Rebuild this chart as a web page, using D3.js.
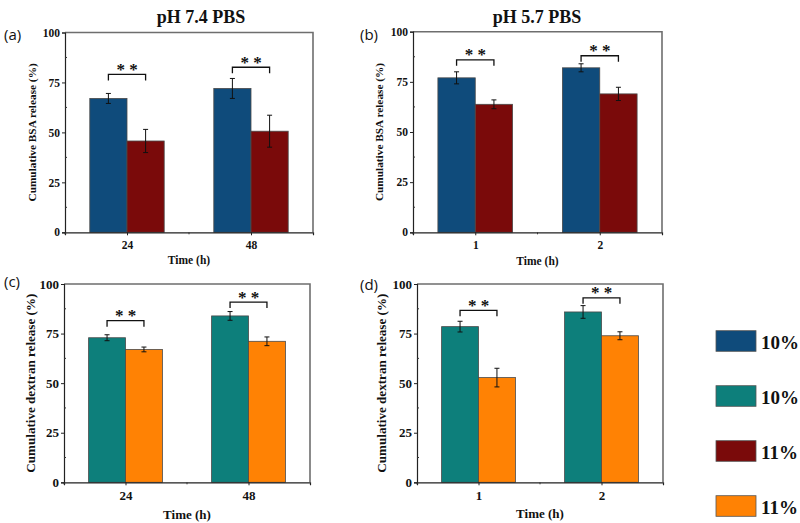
<!DOCTYPE html>
<html><head><meta charset="utf-8">
<script src="https://cdn.jsdelivr.net/npm/d3@7"></script>
<style>
body{margin:0;background:#fff;}
svg text{font-family:"Liberation Serif","Times New Roman",serif !important;font-weight:bold;fill:#111;}
svg text.letter{font-family:"Open Sans","DejaVu Sans",sans-serif !important;font-weight:normal;}
</style></head>
<body><svg id="c" width="800" height="523"></svg>
<script>
// ---- data ----
const catsTime74 = ["24", "48"];
const catsTime57 = ["1", "2"];
const yTicks = [0, 25, 50, 75, 100];

const bsa74_10 = [67.0, 72.0];   const bsa74_10Err = [2.5, 5.0];
const bsa74_11 = [45.7, 50.6];   const bsa74_11Err = [5.8, 8.0];
const bsa57_10 = [77.0, 82.0];   const bsa57_10Err = [3.0, 2.0];
const bsa57_11 = [63.8, 69.0];   const bsa57_11Err = [2.2, 3.3];
const dex74_10 = [72.9, 83.9];   const dex74_10Err = [1.5, 2.2];
const dex74_11 = [67.0, 71.1];   const dex74_11Err = [1.2, 2.2];
const dex57_10 = [78.5, 85.9];   const dex57_10Err = [2.7, 3.2];
const dex57_11 = [52.8, 73.9];   const dex57_11Err = [4.7, 2.0];

const sigA = [79.0, 82.6];
const sigB = [86.0, 88.0];
const sigC = [81.5, 90.9];
const sigD = [86.7, 93.0];

const titles = ["pH 7.4 PBS", "pH 5.7 PBS"];
const legendLabels = ["10%", "10%", "11%", "11%"];
const colors = {blue:"#0f4b7b", red:"#7a0a0a", teal:"#0d7f7b", orange:"#ff8204"};
const legendColors = [colors.blue, colors.teal, colors.red, colors.orange];

const svg = d3.select("#c");

function panel(o){
  const g = svg.append("g");
  const x = d3.scalePoint().domain(o.cats).range([o.l, o.r]).padding(0.5);
  const y = d3.scaleLinear().domain([0, 100]).range([o.b, o.t]);
  const step = x.step();
  const bw = step * 0.3;
  g.append("path").attr("d", `M${o.l},${o.t}H${o.r}V${o.b}`)
    .attr("fill","none").attr("stroke","#6e6e6e").attr("stroke-width",1.6);
  const series = [
    {vals:o.v1, err:o.e1, col:o.c1, off:-bw},
    {vals:o.v2, err:o.e2, col:o.c2, off:0}
  ];
  series.forEach(s=>{
    g.selectAll(null).data(o.cats).enter().append("rect")
      .attr("x", d=>x(d)+s.off).attr("width", bw)
      .attr("y", (d,i)=>y(s.vals[i])).attr("height",(d,i)=>y(0)-y(s.vals[i]))
      .attr("fill", s.col).attr("stroke","#4a4a4a").attr("stroke-width",0.8);
  });
  series.forEach(s=>{
    o.cats.forEach((c,i)=>{
      const cx = x(c)+s.off+bw/2;
      const y1 = y(s.vals[i]+s.err[i]), y2 = y(s.vals[i]-s.err[i]);
      g.append("path").attr("d",`M${cx},${y1}V${y2}M${cx-2.5},${y1}H${cx+2.5}M${cx-2.5},${y2}H${cx+2.5}`)
        .attr("stroke","#111").attr("stroke-width",1).attr("fill","none");
    });
  });
  o.cats.forEach((c,i)=>{
    const x1 = x(c)-bw/2, x2 = x(c)+bw/2;
    const yt = y(o.sig[i]), yl = y(o.sig[i]-3);
    g.append("path").attr("d",`M${x1},${yl}V${yt}H${x2}V${yl}`)
      .attr("fill","none").attr("stroke","#111").attr("stroke-width",1.3);
    g.append("text").attr("x",(x1+x2)/2).attr("y",yt+0.5)
      .attr("text-anchor","middle").style("font-size","17px")
      .text("* *");
  });
  const ya = d3.axisLeft(y).tickValues(yTicks).tickSize(3).tickPadding(2);
  const yg = g.append("g").attr("transform",`translate(${o.l},0)`).call(ya);
  yg.attr("font-family",null);
  yg.select(".domain").attr("stroke","#222").attr("stroke-width",1.2);
  yg.selectAll("text").style("font-size",o.fs+"px").attr("fill","#111");
  yg.selectAll(".tick line").attr("stroke","#222");
  [12.5,37.5,62.5,87.5].forEach(v=>{
    g.append("line").attr("x1",o.l).attr("x2",o.l+2).attr("y1",y(v)).attr("y2",y(v)).attr("stroke","#333");
  });
  const xa = d3.axisBottom(x).tickSize(3).tickPadding(o.xpad);
  const xg = g.append("g").attr("transform",`translate(0,${o.b})`).call(xa);
  xg.attr("font-family",null);
  xg.select(".domain").attr("stroke","#222").attr("stroke-width",1.2);
  xg.selectAll("text").style("font-size",o.fs+"px").attr("fill","#111");
  xg.selectAll(".tick line").attr("stroke","#222");
  [o.l, (x(o.cats[0])+x(o.cats[1]))/2].forEach(v=>{
    g.append("line").attr("x1",v).attr("x2",v).attr("y1",o.b).attr("y2",o.b+2).attr("stroke","#333");
  });
  g.append("text").attr("x",(o.l+o.r)/2).attr("y",o.xtY).attr("text-anchor","middle")
    .style("font-size",o.fs+"px").text("Time (h)");
  g.append("text").attr("transform",`translate(${o.ytX},${(o.t+o.b)/2}) rotate(-90)`)
    .attr("text-anchor","middle").style("font-size",o.yfs+"px").text(o.ylab);
  g.append("text").attr("class","letter").attr("x",o.lx).attr("y",o.ly)
    .style("font-size","15px").text(o.letter);
}

panel({l:65,r:313,t:32.5,b:232.3,cats:catsTime74,v1:bsa74_10,e1:bsa74_10Err,v2:bsa74_11,e2:bsa74_11Err,
  c1:colors.blue,c2:colors.red,sig:sigA,fs:11.5,yfs:11.3,xpad:6,xtY:264,ytX:36,
  ylab:"Cumulative BSA release (%)",letter:"(a)",lx:4,ly:40});
panel({l:413,r:662,t:31.7,b:232.3,cats:catsTime57,v1:bsa57_10,e1:bsa57_10Err,v2:bsa57_11,e2:bsa57_11Err,
  c1:colors.blue,c2:colors.red,sig:sigB,fs:11.5,yfs:11.3,xpad:6,xtY:265,ytX:383,
  ylab:"Cumulative BSA release (%)",letter:"(b)",lx:360,ly:40});
panel({l:64,r:310,t:284,b:482.3,cats:catsTime74,v1:dex74_10,e1:dex74_10Err,v2:dex74_11,e2:dex74_11Err,
  c1:colors.teal,c2:colors.orange,sig:sigC,fs:13,yfs:13.1,xpad:5,xtY:519,ytX:35,
  ylab:"Cumulative dextran release (%)",letter:"(c)",lx:4,ly:287});
panel({l:417,r:663,t:284,b:482.3,cats:catsTime57,v1:dex57_10,e1:dex57_10Err,v2:dex57_11,e2:dex57_11Err,
  c1:colors.teal,c2:colors.orange,sig:sigD,fs:13,yfs:13.1,xpad:5,xtY:518,ytX:386,
  ylab:"Cumulative dextran release (%)",letter:"(d)",lx:360,ly:290});

svg.append("text").attr("x",201).attr("y",23).attr("text-anchor","middle").style("font-size","18px").text(titles[0]);
svg.append("text").attr("x",537).attr("y",23).attr("text-anchor","middle").style("font-size","18px").text(titles[1]);

const ly = d3.scalePoint().domain(d3.range(legendLabels.length)).range([341, 506]);
const lg = svg.append("g");
legendLabels.forEach((lab,i)=>{
  lg.append("rect").attr("x",716).attr("y",ly(i)-10.3).attr("width",40).attr("height",20.6)
    .attr("fill",legendColors[i]).attr("stroke","#555").attr("stroke-width",0.8);
  lg.append("text").attr("x",761).attr("y",ly(i)+7.5).style("font-size","19px").text(lab);
});
</script></body></html>
